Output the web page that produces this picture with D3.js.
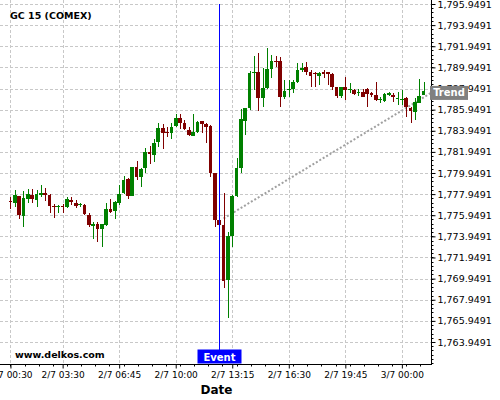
<!DOCTYPE html>
<html><head><meta charset="utf-8">
<script src="https://cdn.jsdelivr.net/npm/d3@7"></script>
<style>body{margin:0;background:#fff}svg{display:block}text{font-family:"DejaVu Sans",sans-serif}</style>
</head><body><svg id="c" width="500" height="400"></svg>
<script>
const title = "GC 15 (COMEX)";
const site = "www.delkos.com";
const opens = [1777.30,1777.14,1777.77,1775.88,1777.52,1777.87,1777.42,1777.90,1778.03,1777.87,
1776.83,1776.76,1776.80,1776.70,1777.42,1777.11,1776.92,1776.92,1775.95,1774.93,
1775.10,1774.68,1775.03,1776.54,1776.38,1777.11,1778.09,1779.38,1777.80,1780.49,
1779.60,1780.45,1781.97,1781.66,1782.86,1784.21,1783.83,1783.77,1784.40,1785.13,
1784.71,1784.02,1783.48,1783.86,1784.88,1784.59,1784.40,1779.95,1775.50,1775.03,
1769.82,1773.99,1777.77,1780.45,1784.88,1786.08,1789.42,1789.49,1787.02,1788.00,
1789.77,1790.58,1790.56,1787.18,1787.78,1787.88,1788.54,1789.70,1790.02,1789.54,
1789.45,1789.16,1789.49,1789.49,1789.28,1788.09,1787.27,1788.07,1787.81,1787.81,
1787.50,1787.62,1787.90,1787.50,1787.34,1786.83,1786.80,1787.36,1787.36,1786.96,
1786.93,1787.08,1786.13,1785.76,1786.61,1787.36];
const highs = [1777.68,1778.34,1777.80,1778.28,1778.47,1778.41,1778.34,1778.82,1778.50,1777.96,
1776.99,1776.89,1777.02,1777.65,1777.65,1777.40,1777.14,1777.02,1776.19,1775.34,
1775.31,1775.12,1777.08,1777.52,1777.30,1778.79,1779.67,1779.48,1780.52,1781.12,
1780.40,1782.29,1782.51,1783.14,1784.71,1784.59,1784.33,1784.66,1785.54,1785.54,
1784.97,1784.28,1785.51,1784.90,1784.90,1784.66,1784.45,1779.98,1775.88,1778.03,
1774.40,1777.87,1781.34,1785.98,1786.11,1789.64,1791.00,1791.34,1789.89,1791.76,
1791.12,1791.03,1790.91,1788.76,1788.76,1788.76,1790.34,1790.34,1790.43,1789.70,
1789.54,1789.54,1789.70,1789.54,1789.45,1788.12,1788.12,1789.01,1788.44,1787.87,
1787.87,1787.87,1787.97,1787.65,1788.54,1787.12,1787.50,1787.59,1787.50,1787.65,
1787.81,1787.15,1786.23,1787.02,1788.85,1788.57];
const lows = [1776.54,1776.70,1775.57,1774.81,1777.08,1777.08,1776.70,1777.71,1777.33,1776.19,
1775.66,1776.14,1776.14,1776.61,1776.92,1776.61,1776.70,1775.98,1774.81,1773.68,
1773.45,1772.92,1774.93,1776.14,1775.57,1776.92,1777.96,1777.49,1777.77,1779.29,
1778.60,1779.98,1780.80,1781.02,1782.44,1782.20,1783.33,1783.14,1784.28,1784.09,
1784.02,1783.45,1783.45,1783.71,1783.77,1782.82,1779.55,1774.87,1774.84,1769.04,
1766.20,1772.92,1777.71,1779.92,1783.55,1785.92,1787.80,1785.82,1786.20,1787.86,
1788.97,1790.02,1786.20,1786.93,1787.18,1787.50,1788.44,1789.54,1789.23,1788.12,
1788.12,1788.28,1788.95,1788.28,1787.81,1787.02,1787.02,1786.86,1787.50,1787.36,
1787.24,1787.12,1786.17,1787.12,1786.80,1786.55,1786.70,1787.24,1786.70,1786.39,
1786.39,1785.28,1784.66,1784.97,1786.55,1787.33];
const closes = [1777.25,1777.87,1775.98,1777.61,1777.94,1777.52,1777.96,1778.03,1777.87,1776.83,
1776.73,1776.83,1776.73,1777.49,1777.21,1776.86,1776.99,1776.10,1775.06,1775.10,
1774.68,1775.10,1776.54,1776.29,1777.21,1777.96,1779.29,1777.80,1780.49,1779.55,
1780.33,1781.97,1781.72,1782.82,1784.21,1783.77,1783.74,1784.33,1785.13,1784.71,
1784.15,1783.55,1783.86,1784.78,1784.62,1784.33,1779.98,1775.50,1775.00,1769.76,
1773.99,1777.80,1780.45,1785.06,1786.08,1789.39,1789.51,1787.02,1788.00,1789.80,
1790.56,1790.46,1787.18,1787.72,1787.90,1788.60,1789.70,1789.86,1789.49,1789.16,
1789.30,1789.45,1789.30,1789.32,1788.12,1787.27,1788.07,1787.78,1787.90,1787.43,
1787.59,1787.18,1787.43,1787.36,1786.86,1786.93,1787.43,1787.50,1787.12,1787.05,
1786.99,1786.23,1785.85,1786.65,1787.24,1787.74];
const tickIndex = [0,12,25,38,51,64,77,90];
const tickLabels = ["2/7 00:30","2/7 03:30","2/7 06:45","2/7 10:00","2/7 13:15","2/7 16:30","2/7 19:45","3/7 00:00"];
const yTickValues = d3.range(17).map(k => 1763.9491 + 2*k);
const eventIndex = 48;
const eventLabel = "Event";
const trendIndex = [49, 96.7];
const trendValue = [1775.64, 1787.53];
const trendLabel = "Trend";
const xLabel = "Date";

const svg = d3.select("#c");
const W = 431, H = 364;
const x = d3.scaleLinear().domain([-2.4, 96.7]).range([0, W]);
const y = d3.scaleLinear().domain([1761.866, 1796.328]).range([H, 0]);
const step = x(1) - x(0);

// grid
const grid = svg.append("g").attr("stroke", "#c8c8c8").attr("stroke-dasharray", "3,2").attr("stroke-width", 1);
yTickValues.forEach(v => {
  const yy = Math.round(y(v)) + 0.5;
  grid.append("line").attr("x1", 0).attr("x2", W).attr("y1", yy).attr("y2", yy);
});
tickIndex.forEach(i => {
  const xx = Math.round(x(i)) + 0.5;
  grid.append("line").attr("x1", xx).attr("x2", xx).attr("y1", 0).attr("y2", H);
});

// trend line
svg.append("line")
  .attr("x1", x(trendIndex[0])).attr("y1", y(trendValue[0]))
  .attr("x2", x(trendIndex[1])).attr("y2", y(trendValue[1]))
  .attr("stroke", "#a0a0a0").attr("stroke-width", 2).attr("stroke-dasharray", "2,2");

// candles
const data = opens.map((o, i) => ({i, o, h: highs[i], l: lows[i], c: closes[i]}));
const cg = svg.append("g").attr("shape-rendering", "crispEdges");
const bw = step * 0.85;
data.forEach(d => {
  const col = d.c >= d.o ? "#008000" : "#800000";
  const cx = x(d.i);
  const wx = Math.round(cx) + 0.5;
  cg.append("line").attr("x1", wx).attr("x2", wx).attr("y1", y(d.h)).attr("y2", y(d.l)).attr("stroke", col);
  const top = y(Math.max(d.o, d.c)), bot = y(Math.min(d.o, d.c));
  cg.append("rect").attr("x", cx - bw / 2).attr("width", bw)
    .attr("y", top).attr("height", Math.max(1, bot - top)).attr("fill", col);
});

// event line
const ex = Math.round(x(eventIndex)) + 0.5;
svg.append("line").attr("x1", ex).attr("x2", ex).attr("y1", 4).attr("y2", 350).attr("stroke", "#0000ff").attr("stroke-width", 1);
svg.append("rect").attr("x", ex - 22).attr("y", 349.5).attr("width", 44).attr("height", 14).attr("fill", "#0000ff");
svg.append("text").attr("x", ex).attr("y", 360.5).attr("text-anchor", "middle").attr("fill", "#fff")
  .attr("font-weight", "bold").attr("font-size", "10px").text(eventLabel);

// axes
const yAxis = d3.axisRight(y).tickValues(yTickValues).tickSize(4).tickPadding(2).tickFormat(d3.format(",.4f"));
const ya = svg.append("g").attr("transform", `translate(${W + 0.5},0)`).call(yAxis);
ya.select(".domain").attr("d", `M0,0V${H}`).attr("stroke", "#000");
ya.selectAll("text").attr("font-size", "9.5px").attr("font-family", "DejaVu Sans").attr("fill", "#000");
const yMinor = d3.range(1761.9491, 1796.3, 0.4).filter(v => y(v) >= 0 && y(v) <= H);
ya.append("g").selectAll("line").data(yMinor).join("line")
  .attr("x1", 0).attr("x2", 2).attr("y1", v => Math.round(y(v)) + 0.5).attr("y2", v => Math.round(y(v)) + 0.5).attr("stroke", "#000");

const xAxis = d3.axisBottom(x).tickValues(tickIndex).tickSize(4).tickPadding(3).tickFormat((d, k) => tickLabels[k]);
const xa = svg.append("g").attr("transform", `translate(0,${H + 0.5})`).call(xAxis);
xa.select(".domain").attr("d", `M0,0H${W + 1}`).attr("stroke", "#000");
xa.selectAll("text").attr("font-size", "9px").attr("font-family", "DejaVu Sans").attr("fill", "#000");
const xMinor = d3.range(-3.25, 97, 3.25).map(v => v + 0).filter(v => x(v) >= 0 && x(v) <= W);
xa.append("g").selectAll("line").data(xMinor).join("line")
  .attr("x1", v => Math.round(x(v)) + 0.5).attr("x2", v => Math.round(x(v)) + 0.5).attr("y1", 0).attr("y2", 2).attr("stroke", "#000");

// trend label
const ty = y(trendValue[1]);
svg.append("rect").attr("x", W - 1).attr("y", ty - 7).attr("width", 38).attr("height", 14).attr("fill", "#808080");
svg.append("text").attr("x", W + 18).attr("y", ty + 3.5).attr("text-anchor", "middle").attr("fill", "#fff")
  .attr("font-weight", "bold").attr("font-size", "10px").text(trendLabel);

// texts
svg.append("text").attr("x", 10).attr("y", 19).attr("font-weight", "bold").attr("font-size", "9.5px").text(title);
svg.append("text").attr("x", 15).attr("y", 358).attr("font-weight", "bold").attr("font-size", "9.5px").text(site);
svg.append("text").attr("x", 216.5).attr("y", 394).attr("text-anchor", "middle").attr("font-weight", "bold").attr("font-size", "12px").text(xLabel);
</script></body></html>
